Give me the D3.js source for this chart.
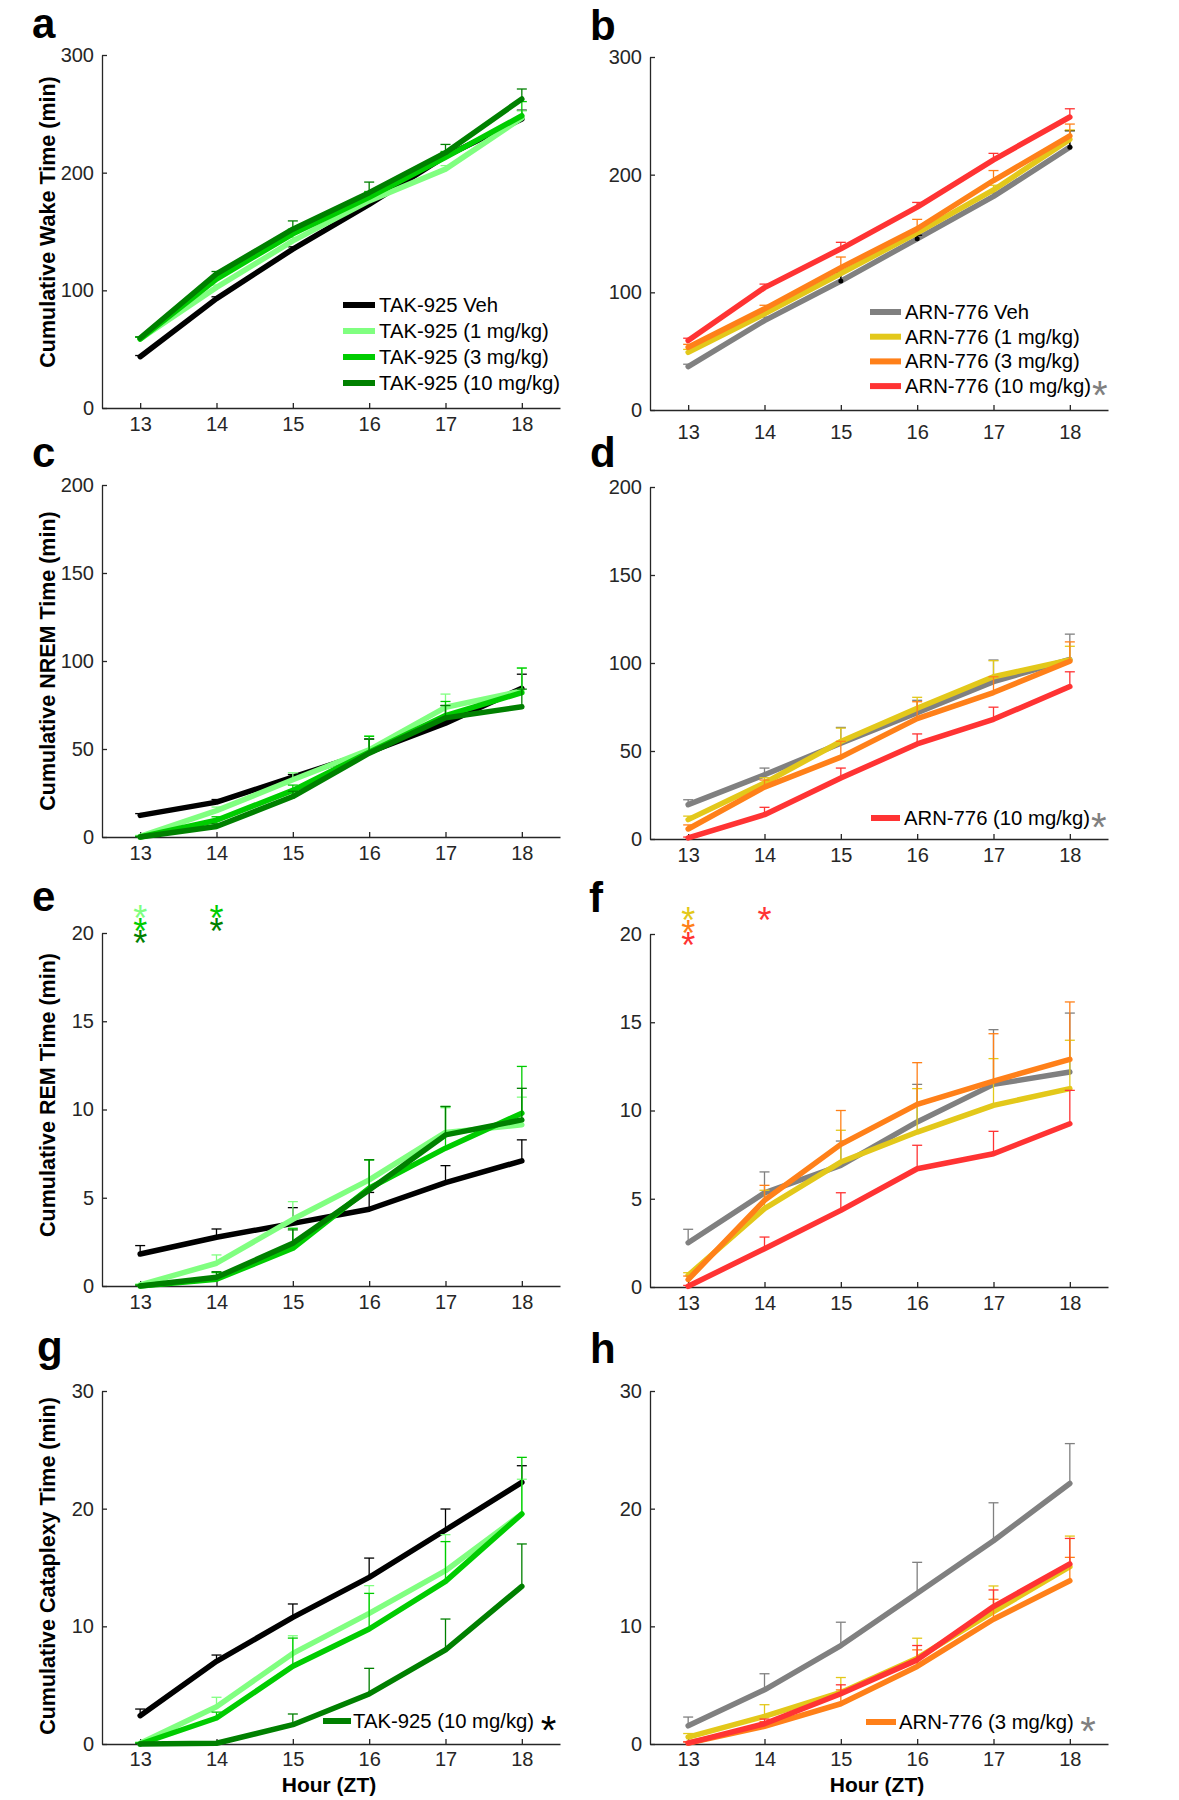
<!DOCTYPE html>
<html><head><meta charset="utf-8">
<script src="https://d3js.org/d3.v7.min.js"></script>
<style>
body{margin:0;background:#fff}
svg{display:block}
text{font-family:"Liberation Sans",Arial,sans-serif}
</style>
</head><body>
<svg id="chart" width="1179" height="1800"></svg>
<script>
// ---------- data ----------
const hours = [13, 14, 15, 16, 17, 18];
const takNames = ["TAK-925 Veh", "TAK-925 (1 mg/kg)", "TAK-925 (3 mg/kg)", "TAK-925 (10 mg/kg)"];
const arnNames = ["ARN-776 Veh", "ARN-776 (1 mg/kg)", "ARN-776 (3 mg/kg)", "ARN-776 (10 mg/kg)"];
const takColors = ["#000000", "#80ff80", "#00cc00", "#008000"];
const arnColors = ["#808080", "#e3c81a", "#ff8019", "#ff3333"];

const wakeTicks = [0, 100, 200, 300];
const nremTicks = [0, 50, 100, 150, 200];
const remTicks = [0, 5, 10, 15, 20];
const cataTicks = [0, 10, 20, 30];

// a: Wake, TAK-925
const aVeh  = [43.6, 93, 135, 173, 214, 245.6];   const aVehErr  = [1, 1.5, 2, 2, 3, 7.5];
const a1mg  = [58.6, 102.5, 142, 176, 203, 246.5]; const a1mgErr  = [1.5, 2, 3, 3, 3, 6];
const a3mg  = [58.6, 109.6, 148, 179, 213, 248.4]; const a3mgErr  = [1.5, 3, 4, 5, 5, 12];
const a10mg = [59.5, 114, 152, 183, 217, 262.6];   const a10mgErr = [1, 2, 7, 9, 7, 8.5];
// b: Wake, ARN-776
const bVeh  = [36.9, 76, 109.6, 145.5, 181.5, 223.4]; const bVehErr  = [2, 3, 7.4, 3, 3, 14];
const b1mg  = [49, 81.7, 116, 150.5, 187, 230];       const b1mgErr  = [2.5, 3, 3, 3, 4, 8];
const b3mg  = [53.3, 86, 121, 154, 195, 233];         const b3mgErr  = [2.5, 3, 9, 8, 8.5, 10];
const b10mg = [59, 104, 137, 172.4, 212.6, 249];      const b10mgErr = [2, 3, 5.5, 4, 5.5, 7];
const bVehBlackHours = [15, 16, 18];
// c: NREM, TAK-925
const cVeh  = [12.3, 19.8, 34, 48.2, 64.7, 84.5]; const cVehErr  = [1, 1.5, 1.5, 7.5, 10, 8];
const c1mg  = [0.4, 15, 32.5, 49.5, 73.7, 83];    const c1mgErr  = [0.5, 2, 4, 8, 7.5, 13];
const c3mg  = [0, 9.5, 26.5, 48.2, 69, 82];       const c3mgErr  = [0.3, 2, 3, 9, 8, 14];
const c10mg = [0, 6, 23, 47.6, 67.7, 74];         const c10mgErr = [0.3, 1.5, 3, 8, 7, 10];
// d: NREM, ARN-776
const dVeh  = [19.5, 36.5, 54.4, 71.8, 89.4, 102]; const dVehErr  = [2.8, 3.8, 9, 7, 12.3, 14.4];
const d1mg  = [11, 31.8, 55.4, 74.3, 92.2, 101.7]; const d1mgErr  = [2, 3, 7.6, 6.2, 9.1, 7.8];
const d3mg  = [5.7, 29.5, 46.5, 68.4, 83.2, 101];  const d3mgErr  = [2.3, 4, 9, 9.6, 9, 11];
const d10mg = [0.6, 13.8, 34.6, 54, 68, 86.6];     const d10mgErr = [0.5, 4.2, 5.7, 5.7, 6.9, 8.4];
// e: REM, TAK-925
const eVeh  = [1.81, 2.76, 3.55, 4.35, 5.86, 7.09]; const eVehErr  = [0.48, 0.47, 0.89, 0.95, 0.96, 1.19];
const e1mg  = [0.06, 1.29, 3.78, 6.01, 8.7, 9.13];  const e1mgErr  = [0.05, 0.47, 1.0, 1.14, 1.4, 1.57];
const e3mg  = [0, 0.38, 2.14, 5.54, 7.81, 9.79];    const e3mgErr  = [0.05, 0.38, 1.13, 1.61, 2.36, 2.65];
const e10mg = [0, 0.49, 2.42, 5.44, 8.56, 9.41];    const e10mgErr = [0.05, 0.32, 0.76, 1.71, 1.61, 1.79];
const eStarHours = [13, 13, 13, 14, 14];
const eStarSeries = [1, 2, 3, 2, 3];
const eStarLevels = [21.25, 20.55, 19.85, 21.25, 20.55];
// f: REM, ARN-776
const fVeh  = [2.51, 5.33, 6.89, 9.35, 11.48, 12.18]; const fVehErr  = [0.76, 1.19, 1.38, 2.13, 3.1, 3.34];
const f1mg  = [0.66, 4.44, 7.08, 8.78, 10.29, 11.24]; const f1mgErr  = [0.15, 1.04, 1.8, 2.46, 2.65, 2.74];
const f3mg  = [0.42, 4.91, 8.08, 10.35, 11.67, 12.9]; const f3mgErr  = [0.2, 0.85, 1.92, 2.36, 2.68, 3.25];
const f10mg = [0.04, 2.17, 4.34, 6.7, 7.55, 9.25];    const f10mgErr = [0.05, 0.66, 1.0, 1.33, 1.27, 1.89];
const fStarHours = [13, 13, 13, 14];
const fStarSeries = [1, 2, 3, 3];
const fStarLevels = [21.2, 20.5, 19.8, 21.2];
// g: Cataplexy, TAK-925
const gVeh  = [2.41, 7.03, 10.76, 14.16, 18.19, 22.24]; const gVehErr  = [0.56, 0.53, 1.14, 1.64, 1.78, 1.41];
const g1mg  = [0.06, 3.17, 7.7, 11.1, 14.73, 19.55];    const g1mgErr  = [0.1, 0.8, 1.5, 2.36, 3.06, 2.95];
const g3mg  = [0, 2.21, 6.6, 9.77, 13.82, 19.55];       const g3mgErr  = [0.1, 0.5, 2.4, 3.03, 3.38, 4.81];
const g10mg = [0, 0.06, 1.64, 4.25, 7.99, 13.4];        const g10mgErr = [0.05, 0.05, 0.91, 2.18, 2.63, 3.6];
// h: Cataplexy, ARN-776
const hVeh  = [1.55, 4.61, 8.37, 12.81, 17.27, 22.14]; const hVehErr  = [0.74, 1.36, 1.98, 2.63, 3.23, 3.39];
const h1mg  = [0.59, 2.35, 4.38, 7.29, 11.25, 15.07];  const h1mgErr  = [0.3, 0.99, 1.27, 1.7, 2.18, 2.6];
const h3mg  = [0.08, 1.5, 3.42, 6.59, 10.6, 13.88];    const h3mgErr  = [0.1, 0.4, 1.18, 1.41, 1.7, 1.98];
const h10mg = [0.08, 1.72, 4.27, 7.15, 11.68, 15.3];   const h10mgErr = [0.1, 0.4, 0.76, 1.22, 1.41, 2.17];

// ---------- layout ----------
const LEFT = [102, 560], RIGHT = [650, 1108];
const panels = [
  {letter:"a", lx:32, ly:38, xr:LEFT, yr:[408,55], max:300, ticks:wakeTicks, s:[aVeh,a1mg,a3mg,a10mg], e:[aVehErr,a1mgErr,a3mgErr,a10mgErr], col:takColors, names:takNames,
   ylabel:"Cumulative Wake Time (min)", ylabelY:222, xpad:9,
   legend:{rows:[0,1,2,3], y0:305, dy:26, x0:343, x1:375, tx:379, star:null}},
  {letter:"b", lx:590, ly:40, xr:RIGHT, yr:[410,57], max:300, ticks:wakeTicks, s:[bVeh,b1mg,b3mg,b10mg], e:[bVehErr,b1mgErr,b3mgErr,b10mgErr], col:arnColors, names:arnNames,
   xpad:15, black:true,
   legend:{rows:[0,1,2,3], y0:312, dy:24.7, x0:870, x1:901, tx:905, star:{color:"#808080", space:""}}},
  {letter:"c", lx:32, ly:467, xr:LEFT, yr:[837,485], max:200, ticks:nremTicks, s:[cVeh,c1mg,c3mg,c10mg], e:[cVehErr,c1mgErr,c3mgErr,c10mgErr], col:takColors, names:takNames,
   ylabel:"Cumulative NREM Time (min)", ylabelY:661, xpad:9},
  {letter:"d", lx:590, ly:467, xr:RIGHT, yr:[839,487], max:200, ticks:nremTicks, s:[dVeh,d1mg,d3mg,d10mg], e:[dVehErr,d1mgErr,d3mgErr,d10mgErr], col:arnColors, names:arnNames,
   xpad:9, legend:{rows:[3], y0:818, dy:0, x0:871, x1:900, tx:904, star:{color:"#808080", space:""}}},
  {letter:"e", lx:32, ly:911, xr:LEFT, yr:[1286,933], max:20, ticks:remTicks, s:[eVeh,e1mg,e3mg,e10mg], e:[eVehErr,e1mgErr,e3mgErr,e10mgErr], col:takColors, names:takNames,
   ylabel:"Cumulative REM Time (min)", ylabelY:1095, xpad:9, stars:[eStarHours,eStarSeries,eStarLevels]},
  {letter:"f", lx:589, ly:912, xr:RIGHT, yr:[1287,934], max:20, ticks:remTicks, s:[fVeh,f1mg,f3mg,f10mg], e:[fVehErr,f1mgErr,f3mgErr,f10mgErr], col:arnColors, names:arnNames,
   xpad:9, stars:[fStarHours,fStarSeries,fStarLevels]},
  {letter:"g", lx:37, ly:1361, xr:LEFT, yr:[1744,1391], max:30, ticks:cataTicks, s:[gVeh,g1mg,g3mg,g10mg], e:[gVehErr,g1mgErr,g3mgErr,g10mgErr], col:takColors, names:takNames,
   ylabel:"Cumulative Cataplexy Time (min)", ylabelY:1566, xpad:8, xlabel:true,
   legend:{rows:[3], y0:1721, dy:0, x0:323, x1:351, tx:353, star:{color:"#000000", space:" "}}},
  {letter:"h", lx:590, ly:1363, xr:RIGHT, yr:[1744,1391], max:30, ticks:cataTicks, s:[hVeh,h1mg,h3mg,h10mg], e:[hVehErr,h1mgErr,h3mgErr,h10mgErr], col:arnColors, names:arnNames,
   xpad:8, xlabel:true,
   legend:{rows:[2], y0:1722, dy:0, x0:866, x1:896, tx:899, star:{color:"#808080", space:" "}}}
];

const svg = d3.select("#chart");
svg.append("rect").attr("width",1179).attr("height",1800).attr("fill","#fff");
const AX = "#262626";
const STAR_FS = 36;

panels.forEach(p => {
  const g = svg.append("g");
  const x = d3.scaleLinear().domain([12.5, 18.5]).range(p.xr);
  const y = d3.scaleLinear().domain([0, p.max]).range(p.yr);

  // axes
  const xa = g.append("g").attr("transform", `translate(0,${p.yr[0]})`)
    .call(d3.axisBottom(x).tickValues(hours).tickSizeInner(-5).tickSizeOuter(0).tickPadding(p.xpad).tickFormat(d3.format("d")));
  const ya = g.append("g").attr("transform", `translate(${p.xr[0]},0)`)
    .call(d3.axisLeft(y).tickValues(p.ticks).tickSizeInner(-5).tickSizeOuter(0).tickPadding(8).tickFormat(d3.format("d")));
  [xa, ya].forEach(a => {
    a.selectAll("path,line").attr("stroke", AX).attr("stroke-width", 1.3);
    a.selectAll("text").attr("fill", AX).attr("font-size", 20)
      .attr("font-family", '"Liberation Sans", Arial, sans-serif');
  });

  // series
  const line = d3.line().x((d,i) => x(hours[i])).y(d => y(d));
  p.s.forEach((vals, si) => {
    const c = p.col[si];
    const eb = g.append("g").attr("stroke", c).attr("stroke-width", 1.3).attr("fill","none");
    vals.forEach((v, i) => {
      const top = y(v + p.e[si][i]);
      const xx = x(hours[i]);
      eb.append("line").attr("x1", xx).attr("x2", xx).attr("y1", y(v)).attr("y2", top);
      eb.append("line").attr("x1", xx-5).attr("x2", xx+5).attr("y1", top).attr("y2", top);
    });
    g.append("path").datum(vals).attr("d", line).attr("fill","none").attr("stroke", c)
      .attr("stroke-width", 5.5).attr("stroke-linejoin","round").attr("stroke-linecap","round");
    if (si === 0 && p.black) {
      bVehBlackHours.forEach(hh => {
        const i = hours.indexOf(hh);
        const xx = x(hh), v = vals[i], top = y(v + p.e[0][i]);
        g.append("line").attr("x1", xx).attr("x2", xx).attr("y1", y(v)).attr("y2", top).attr("stroke","#000").attr("stroke-width",1.3);
        g.append("line").attr("x1", xx-5).attr("x2", xx+5).attr("y1", top).attr("y2", top).attr("stroke","#000").attr("stroke-width",1.3);
        g.append("circle").attr("cx", xx).attr("cy", y(v)).attr("r", 2.5).attr("fill","#000");
      });
    }
  });

  // significance stars
  if (p.stars) {
    const [sh, ss, sl] = p.stars;
    sh.forEach((hh, k) => {
      g.append("text").attr("x", x(hh)).attr("y", y(sl[k]) + 0.57 * STAR_FS).attr("text-anchor","middle")
        .attr("font-size", STAR_FS).attr("fill", p.col[ss[k]]).text("*");
    });
  }

  // legend
  if (p.legend) {
    const L = p.legend;
    L.rows.forEach((si, k) => {
      const cy = L.y0 + k * L.dy;
      g.append("line").attr("x1", L.x0).attr("x2", L.x1).attr("y1", cy).attr("y2", cy)
        .attr("stroke", p.col[si]).attr("stroke-width", 6);
      const t = g.append("text").attr("x", L.tx).attr("y", cy + 7).attr("font-size", 20.3).attr("fill", "#000")
        .text(p.names[si] + ((L.star && k === L.rows.length - 1) ? L.star.space : ""));
      if (L.star && k === L.rows.length - 1) {
        t.append("tspan").attr("font-size", 40).attr("dx", 1).attr("dy", 0.57 * 40 - 7).attr("fill", L.star.color).text("*");
      }
    });
  }

  // labels
  if (p.ylabel) {
    g.append("text").attr("transform", `translate(48,${p.ylabelY}) rotate(-90)`)
      .attr("text-anchor","middle").attr("dominant-baseline","central")
      .attr("font-size", 21.5).attr("font-weight","bold").attr("fill","#000").text(p.ylabel);
  }
  if (p.xlabel) {
    g.append("text").attr("x", (p.xr[0] + p.xr[1]) / 2 - 2).attr("y", 1792).attr("text-anchor","middle")
      .attr("font-size", 21).attr("font-weight","bold").attr("fill","#000").text("Hour (ZT)");
  }
  g.append("text").attr("x", p.lx).attr("y", p.ly).attr("font-size", 42).attr("font-weight","bold")
    .attr("fill","#000").text(p.letter);
});
</script>
</body></html>
